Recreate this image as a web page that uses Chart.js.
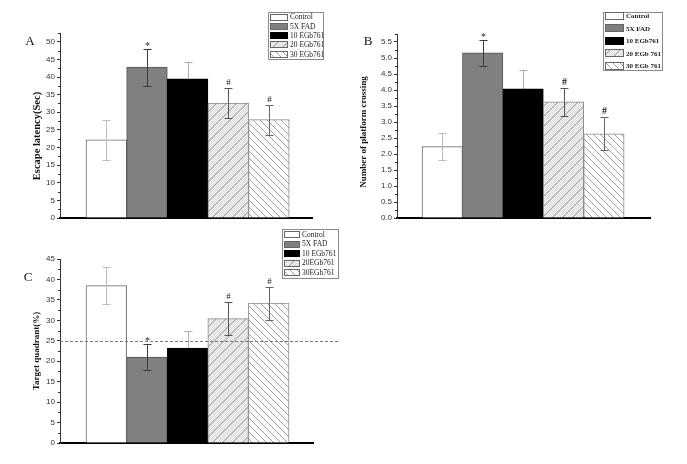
<!DOCTYPE html>
<html><head><meta charset="utf-8">
<script src="https://cdn.jsdelivr.net/npm/chart.js@4.4.1/dist/chart.umd.min.js"></script>
<style>
html,body{margin:0;padding:0;background:#fff;width:687px;height:464px;overflow:hidden}
.p{position:absolute}
canvas{display:block}
</style></head><body>
<div class="p" style="left:0;top:0"><canvas id="cA" width="340" height="230"></canvas></div>
<div class="p" style="left:340px;top:0"><canvas id="cB" width="347" height="230"></canvas></div>
<div class="p" style="left:0;top:225px"><canvas id="cC" width="340" height="239"></canvas></div>
<script>
// ---------- data ----------
const groupsA = ['Control', '5X FAD', '10 EGb761', '20 EGb761', '30 EGb761'];
const groupsB = ['Control', '5X FAD', '10 EGb761', '20 EGb 761', '30 EGb 761'];
const groupsC = ['Control', '5X FAD', '10 EGb761', '20EGb761', '30EGb761'];

const valuesA = [22.2, 42.8, 39.5, 32.6, 27.9];
const errorsA = [5.6, 5.3, 4.8, 4.3, 4.25];
const valuesB = [2.23, 5.16, 4.04, 3.63, 2.63];
const errorsB = [0.43, 0.40, 0.59, 0.43, 0.52];
const valuesC = [38.5, 21.0, 23.2, 30.4, 34.2];
const errorsC = [4.55, 3.1, 4.1, 4.1, 4.05];

const marksA = ['', '*', '', '#', '#'];
const marksB = ['', '*', '', '#', '#'];
const marksC = ['', '*', '', '#', '#'];

const ticksA = [0, 5, 10, 15, 20, 25, 30, 35, 40, 45, 50];
const ticksB = [0, 0.5, 1, 1.5, 2, 2.5, 3, 3.5, 4, 4.5, 5, 5.5];
const ticksC = [0, 5, 10, 15, 20, 25, 30, 35, 40, 45];

const titleA = 'Escape latency(Sec)';
const titleB = 'Number of platform crossing';
const titleC = 'Target quadrant(%)';
const chanceC = 25;

// ---------- styles ----------
function makePattern(kind) {
  const c = document.createElement('canvas');
  const g = c.getContext('2d');
  if (kind === 'dots') {
    c.width = c.height = 10;
    g.fillStyle = '#fff'; g.fillRect(0, 0, 10, 10);
    g.fillStyle = '#d2d2d2';
    for (let yy = 0; yy < 10; yy++) for (let xx = yy % 2; xx < 10; xx += 2) g.fillRect(xx, yy, 1, 1);
    g.fillStyle = '#ababab';
    for (let i = 0; i < 10; i++) g.fillRect(i, 9 - i, 1, 1);
  } else {
    c.width = c.height = 7;
    g.fillStyle = '#fff'; g.fillRect(0, 0, 7, 7);
    g.fillStyle = '#a2a2a2';
    for (let i = 0; i < 7; i++) g.fillRect(i, i, 1, 1);
  }
  return document.createElement('canvas').getContext('2d').createPattern(c, 'repeat');
}
const fills = ['#ffffff', '#808080', '#000000', makePattern('dots'), makePattern('diag')];
const borders = ['#6a6a6a', '#555555', '#000000', '#8a8a8a', '#8a8a8a'];
const errOuter = ['#bdbdbd', '#3a3a3a', '#b0b0b0', '#555555', '#666666'];
const errInner = ['#bdbdbd', '#3a3a3a', '#000000', '#555555', '#666666'];

function panelPlugin(cfg) {
  return {
    id: 'panel' + cfg.letter,
    afterDatasetsDraw(chart) {
      const ctx = chart.ctx;
      const y = chart.scales.y;
      const meta = chart.getDatasetMeta(0);
      const area = chart.chartArea;
      ctx.save();
      // minor ticks
      ctx.strokeStyle = '#333'; ctx.lineWidth = 1;
      const tk = cfg.ticks;
      const step = tk[1] - tk[0];
      for (let v = tk[0] + step / 2; v <= y.max + 1e-9; v += step) {
        const py = Math.round(y.getPixelForValue(v)) + 0.5;
        ctx.beginPath(); ctx.moveTo(area.left - 2, py); ctx.lineTo(area.left, py); ctx.stroke();
      }
      // chance line
      if (cfg.chance !== undefined) {
        const py = Math.round(y.getPixelForValue(cfg.chance)) + 0.5;
        ctx.setLineDash([3, 2]);
        ctx.strokeStyle = '#777';
        ctx.beginPath(); ctx.moveTo(area.left, py); ctx.lineTo(area.right + 25, py); ctx.stroke();
        ctx.setLineDash([]);
      }
      // error bars + marks
      cfg.values.forEach((v, i) => {
        const bar = meta.data[i];
        const cx = Math.round(bar.x) + 0.5;
        const pv = y.getPixelForValue(v);
        const pt = Math.round(y.getPixelForValue(v + cfg.errors[i])) + 0.5;
        const pb = Math.round(y.getPixelForValue(v - cfg.errors[i])) + 0.5;
        ctx.lineWidth = 1;
        ctx.strokeStyle = errOuter[i];
        ctx.beginPath(); ctx.moveTo(cx, pv); ctx.lineTo(cx, pt);
        ctx.moveTo(cx - 4, pt); ctx.lineTo(cx + 4, pt); ctx.stroke();
        ctx.strokeStyle = errInner[i];
        ctx.beginPath(); ctx.moveTo(cx, pv); ctx.lineTo(cx, pb);
        ctx.moveTo(cx - 4, pb); ctx.lineTo(cx + 4, pb); ctx.stroke();
        const m = cfg.marks[i];
        if (m) {
          ctx.fillStyle = '#222';
          ctx.textAlign = 'center';
          ctx.textBaseline = 'alphabetic';
          ctx.font = (m === '*' ? '10px' : cfg.hashFont) + ' "Liberation Serif"';
          ctx.fillText(m, cx, m === '*' ? pt - 1 : pt - 4);
        }
      });
      // panel letter
      ctx.fillStyle = '#111';
      ctx.font = '13px "Liberation Serif"';
      ctx.textAlign = 'center'; ctx.textBaseline = 'middle';
      ctx.fillText(cfg.letter, cfg.letterPos[0], cfg.letterPos[1]);
      // axis title
      ctx.save();
      ctx.translate(cfg.titlePos[0], cfg.titlePos[1]);
      ctx.rotate(-Math.PI / 2);
      ctx.font = cfg.titleFont;
      ctx.fillStyle = '#111';
      ctx.textAlign = 'center'; ctx.textBaseline = 'middle';
      ctx.fillText(cfg.title, 0, 0);
      ctx.restore();
      // legend
      const L = cfg.legend;
      ctx.strokeStyle = '#8a8a8a'; ctx.lineWidth = 1;
      ctx.fillStyle = '#fff';
      ctx.fillRect(L.x, L.y, L.w, L.h);
      ctx.strokeRect(L.x + 0.5, L.y + 0.5, L.w, L.h);
      cfg.groups.forEach((g, i) => {
        const ry = L.y + L.first + i * L.row;
        ctx.fillStyle = fills[i];
        ctx.fillRect(L.x + 2, Math.round(ry - L.sh / 2), L.sw, L.sh);
        ctx.strokeStyle = borders[i] === '#000000' ? '#000' : '#666';
        ctx.strokeRect(L.x + 2.5, Math.round(ry - L.sh / 2) + 0.5, L.sw - 1, L.sh - 1);
        ctx.fillStyle = '#222';
        ctx.font = L.font;
        ctx.textAlign = 'left'; ctx.textBaseline = 'middle';
        ctx.fillText(g, L.x + L.sw + 4, ry + 0.5);
      });
      ctx.restore();
    }
  };
}

function makeChart(id, cfg) {
  const data = cfg.values.map((v, i) => ({ x: i + 1, y: v }));
  return new Chart(document.getElementById(id), {
    type: 'bar',
    data: {
      datasets: [{
        data: data,
        backgroundColor: fills,
        borderColor: borders,
        borderWidth: 1,
        barPercentage: 1,
        categoryPercentage: 1
      }]
    },
    options: {
      responsive: false,
      animation: false,
      devicePixelRatio: 1,
      layout: { padding: cfg.padding },
      plugins: { legend: { display: false }, tooltip: { enabled: false } },
      scales: {
        x: {
          type: 'linear', min: cfg.xmin, max: cfg.xmax, offset: false,
          ticks: { display: false },
          grid: { display: false },
          border: { display: true, color: '#000', width: 2 },
          afterFit: s => { s.height = 0; }
        },
        y: {
          min: 0, max: cfg.ymax,
          afterBuildTicks: s => { s.ticks = cfg.ticks.map(v => ({ value: v })); },
          ticks: {
            font: { family: 'Liberation Sans', size: cfg.tickSize },
            color: '#333', padding: 2,
            callback: v => cfg.decimals ? Number(v).toFixed(cfg.decimals) : String(v)
          },
          grid: { display: true, drawOnChartArea: false, drawTicks: true, tickLength: 3, color: '#333' },
          border: { display: true, color: '#333', width: 1 },
          afterFit: s => { s.width = cfg.yw; }
        }
      }
    },
    plugins: [panelPlugin(cfg)]
  });
}

makeChart('cA', {
  letter: 'A', values: valuesA, errors: errorsA, marks: marksA, groups: groupsA, ticks: ticksA,
  ymax: 52.5, xmin: -0.14, xmax: 6.06, yw: 30, decimals: 0, tickSize: 8,
  padding: { left: 30, right: 28, top: 33, bottom: 12 },
  title: titleA, titleFont: 'bold 10.5px "Liberation Serif"', titlePos: [37, 136],
  letterPos: [30, 42], hashFont: '9px',
  legend: { x: 268, y: 12, w: 55, h: 47, first: 5, row: 9.3, sw: 18, sh: 7, font: '7.5px "Liberation Serif"' }
});
makeChart('cB', {
  letter: 'B', values: valuesB, errors: errorsB, marks: marksB, groups: groupsB, ticks: ticksB,
  ymax: 5.75, xmin: -0.12, xmax: 6.14, yw: 30, decimals: 1, tickSize: 8,
  padding: { left: 27, right: 37, top: 34, bottom: 12 },
  title: titleB, titleFont: 'bold 9px "Liberation Serif"', titlePos: [24, 132],
  letterPos: [28, 42], hashFont: 'bold 10px',
  legend: { x: 263, y: 12, w: 59, h: 58, first: 4, row: 12.4, sw: 19, sh: 8, font: 'bold 7px "Liberation Serif"' }
});
makeChart('cC', {
  letter: 'C', values: valuesC, errors: errorsC, marks: marksC, groups: groupsC, ticks: ticksC,
  ymax: 45, xmin: -0.14, xmax: 6.09, yw: 30, decimals: 0, tickSize: 8, chance: chanceC,
  padding: { left: 30, right: 27, top: 34, bottom: 21 },
  title: titleC, titleFont: 'bold 9px "Liberation Serif"', titlePos: [37, 126],
  letterPos: [28, 53], hashFont: '9px',
  legend: { x: 282, y: 4, w: 56, h: 49, first: 5.5, row: 9.5, sw: 16, sh: 7, font: '7.5px "Liberation Serif"' }
});
</script>
</body></html>
